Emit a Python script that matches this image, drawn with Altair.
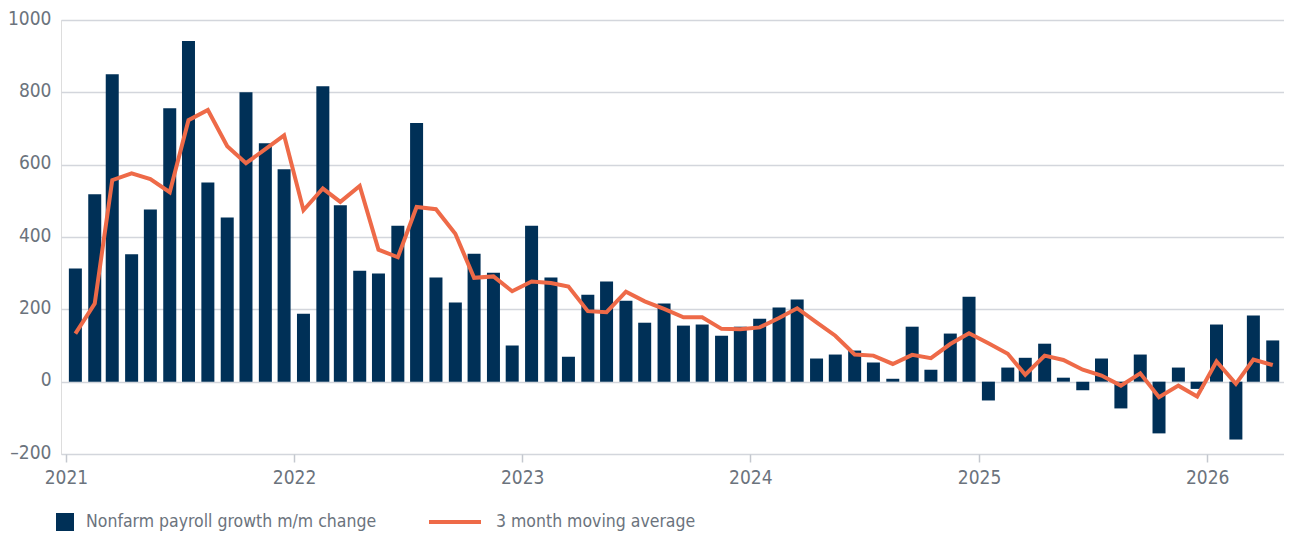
import altair as alt
import pandas as pd

# ---- data ----
month_starts = pd.date_range("2021-01-01", periods=64, freq="MS")

payrolls = [
    313, 518, 850, 352, 476, 756, 942, 551, 454, 800, 659, 587,   # 2021
    188, 817, 488, 307, 299, 431, 715, 288, 219, 354, 301, 100,   # 2022
    431, 288, 69, 240, 277, 224, 163, 216, 155, 158, 127, 152,    # 2023
    174, 205, 227, 64, 75, 86, 53, 8, 152, 33, 133, 235,          # 2024
    -52, 39, 66, 105, 11, -24, 64, -74, 75, -143, 39, -20,        # 2025
    158, -160, 183, 114,                                          # 2026
]

moving_avg = [
    133, 216, 557, 576, 560, 524, 723, 751, 651, 604, 643, 681,
    474, 534, 497, 541, 365, 344, 483, 477, 409, 287, 291, 250,
    277, 273, 263, 195, 192, 249, 222, 201, 178, 178, 146, 145,
    150, 176, 203, 164, 127, 75, 72, 49, 74, 65, 104, 134,
    106, 77, 19, 72, 60, 33, 17, -11, 23, -43, -11, -41,
    56, -6, 61, 46,
]

y_ticks = [-200, 0, 200, 400, 600, 800, 1000]
x_domain = ["2021-01-01", "2026-04-26"]
bar_label = "Nonfarm payroll growth m/m change"
line_label = "3 month moving average"

# mid-month positions
dates = [(m + pd.Timedelta(days=15)).strftime("%Y-%m-%d") for m in month_starts]
df = pd.DataFrame({"date": dates, "payrolls": payrolls, "avg": moving_avg})

FONT = "DejaVu Sans Condensed, Liberation Sans Narrow, sans-serif"
GREY = "#6b737d"
GRID = "#d3d6dc"
NAVY = "#003057"
ORANGE = "#ee6a48"

x_enc = alt.X(
    "date:T",
    scale=alt.Scale(type="utc", domain=x_domain, nice=False),
    axis=alt.Axis(
        title=None, format="%Y", tickCount={"interval": "year", "step": 1},
        grid=False, domain=False, ticks=True, tickColor="#c4c8cf",
        tickSize=8, tickWidth=1.5, labelFont=FONT, labelFontSize=19,
        labelColor=GREY, labelPadding=6,
    ),
)

y_scale = alt.Scale(domain=[-200, 1000], nice=False, zero=True)
y_axis = alt.Axis(
    title=None, values=y_ticks, format="d",
    labelExpr="replace(datum.label, '\u2212', '\u2013')",
    grid=True, gridColor=GRID, gridWidth=1.5, domain=False, ticks=False,
    labelFont=FONT, labelFontSize=19, labelColor=GREY, labelPadding=10,
    labelOffset=-2,
)

bars = alt.Chart(df).transform_calculate(
    series=f"'{bar_label}'"
).mark_bar(width=13).encode(
    x=x_enc,
    y=alt.Y("payrolls:Q", scale=y_scale, axis=y_axis),
    fill=alt.Fill(
        "series:N",
        scale=alt.Scale(domain=[bar_label], range=[NAVY]),
        legend=alt.Legend(
            title=None, orient="none", legendX=-5, legendY=493,
            symbolType="square", symbolSize=324, symbolStrokeWidth=0,
            labelOffset=12, labelFont=FONT, labelFontSize=17.5,
            labelColor=GREY, labelLimit=0, padding=0,
        ),
    ),
)

line = alt.Chart(df).transform_calculate(
    series2=f"'{line_label}'"
).mark_line(strokeWidth=4).encode(
    x=alt.X("date:T"),
    y=alt.Y("avg:Q"),
    stroke=alt.Stroke(
        "series2:N",
        scale=alt.Scale(domain=[line_label], range=[ORANGE]),
        legend=alt.Legend(
            title=None, orient="none", legendX=366, legendY=474,
            symbolType="stroke", symbolSize=2704, symbolStrokeWidth=4,
            labelOffset=13, labelFont=FONT, labelFontSize=17.5,
            labelColor=GREY, labelLimit=0, padding=0,
        ),
    ),
)

chart = alt.layer(bars, line).properties(
    width=1223,
    height=434,
    autosize=alt.AutoSizeParams(type="none"),
    padding={"left": 53, "top": 12, "right": 0, "bottom": 77},
).configure_view(stroke=None).configure(background="white")

chart.save("out.html", embed_options={"renderer": "svg", "actions": False})
